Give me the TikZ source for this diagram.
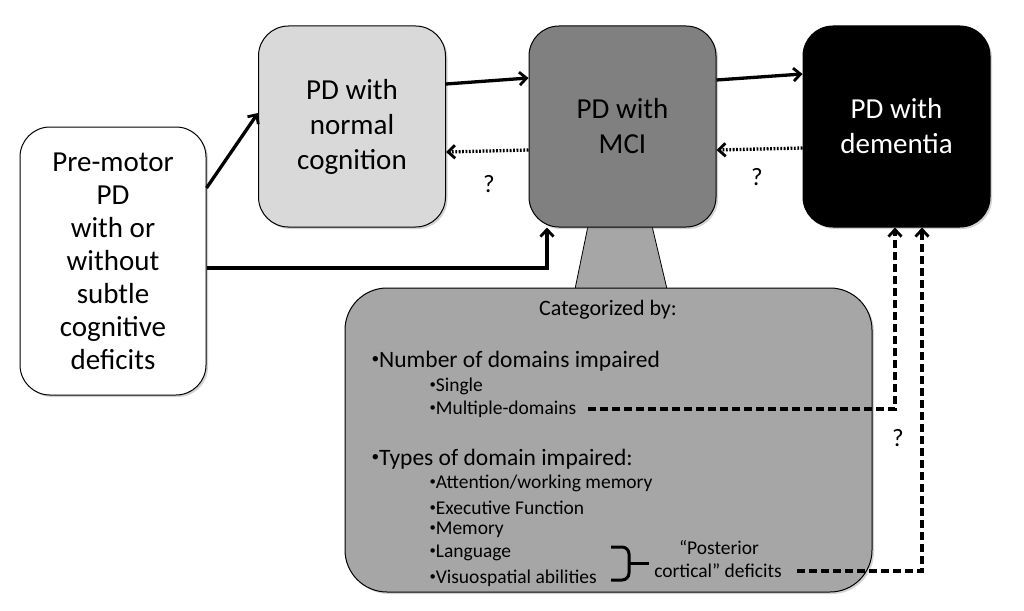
\documentclass[tikz,border=0pt]{standalone}
\usepackage{fontspec}
\usepackage{graphicx}
\setmainfont{Carlito}
\usetikzlibrary{arrows.meta,calc,shadows}
\definecolor{lightbox}{HTML}{D9D9D9}
\definecolor{mcibox}{HTML}{808080}
\definecolor{catbox}{HTML}{A6A6A6}
\newcommand{\bul}{\raisebox{0.3ex}{\scalebox{0.65}{•}}}
\begin{document}
\begin{tikzpicture}[x=1pt,y=-1pt,
  box/.style={draw=black, line width=1pt, rounded corners=30pt, align=center,
    font=\fontsize{29}{35}\selectfont, inner sep=0pt,
    minimum width=187pt, minimum height=201pt,
    drop shadow={shadow xshift=2pt, shadow yshift=-2pt, opacity=0.35}},
  conn/.style={line width=3.3pt, -{Straight Barb[length=7pt,width=13pt,line width=2.8pt]}},
  dotconn/.style={conn, dash pattern=on 1.8pt off 1.6pt},
  dashconn/.style={conn, dash pattern=on 8pt off 4pt},
  qmark/.style={font=\fontsize{25}{29}\selectfont},
  head/.style={anchor=west, font=\fontsize{23.5}{27}\selectfont},
  item/.style={anchor=west, font=\fontsize{19.5}{23}\selectfont},
]
\useasboundingbox (0,0) rectangle (1024,610);

% trapezoid connecting MCI box to category box
\filldraw[fill=catbox, draw=black, line width=0.8pt] (588,226) -- (652,226) -- (667,289) -- (575,289) -- cycle;

\node[box, fill=white, minimum width=186pt, minimum height=268pt,
  font=\fontsize{29}{33}\selectfont] (pre) at (113,261)
  {Pre-motor\\PD\\with or\\without\\subtle\\cognitive\\deficits};
\node[box, fill=lightbox] (norm) at (352,126.5) {PD with\\normal\\cognition};
\node[box, fill=mcibox] (mci) at (622.5,126.5) {PD with\\MCI};
\node[box, fill=black, text=white] (dem) at (896.5,126.5) {PD with\\dementia};

\node[box, fill=catbox, minimum width=527pt, minimum height=304pt,
  rounded corners=42pt] (cat) at (608.5,440) {};

\node[font=\fontsize{22}{26}\selectfont] (cattitle) at (608,310) {Categorized by:};
\node[head] (num) at (368,361) {\bul Number of domains impaired};
\node[item] (single) at (426,386) {\bul Single};
\node[item] (md) at (426,409) {\bul Multiple-domains};
\node[head] (types) at (368,459) {\bul Types of domain impaired:};
\node[item] (att) at (426,483) {\bul Attention/working memory};
\node[item] (exe) at (426,508) {\bul Executive Function};
\node[item] (mem) at (426,530) {\bul Memory};
\node[item] (lang) at (426,553) {\bul Language};
\node[item] (vis) at (426,578) {\bul Visuospatial abilities};
\node[item, anchor=center] (post) at (719,548) {“Posterior};
\node[item, anchor=center] (pc) at (718,571) {cortical” deficits};

% brace
\draw[line width=3pt] (611,547) -- (622,547) to[out=0,in=90] (629,554) -- (629,573)
  to[out=-90,in=0] (622,580) -- (611,580);
\draw[line width=3pt] (629,563) -- (649,563);

% connectors
\draw[conn] ($(pre.east)+(0,-73)$) -- ($(norm.west)+(0,-13.5)$);
\draw[conn] ($(pre.east)+(0,7)$) -| ($(mci.south)+(-75.5,0)$);
\draw[conn] ($(norm.east)+(0,-42.5)$) -- ($(mci.west)+(0,-48.5)$);
\draw[conn] ($(mci.east)+(0,-46.5)$) -- ($(dem.west)+(0,-52.5)$);
\draw[dotconn] ($(mci.west)+(0,23.5)$) -- ($(norm.east)+(0,25.5)$);
\draw[dotconn] ($(dem.west)+(0,21.5)$) -- ($(mci.east)+(0,23.5)$);
\draw[dashconn] ($(md.east)+(8,0)$) -| ($(dem.south)+(-1.5,0)$);
\draw[dashconn] ($(pc.east)+(12,0)$) -| ($(dem.south)+(25.5,0)$);

\node[qmark] (q1) at (489,184) {?};
\node[qmark] (q2) at (757,177) {?};
\node[qmark] (q3) at (898,438) {?};
\end{tikzpicture}
\end{document}
